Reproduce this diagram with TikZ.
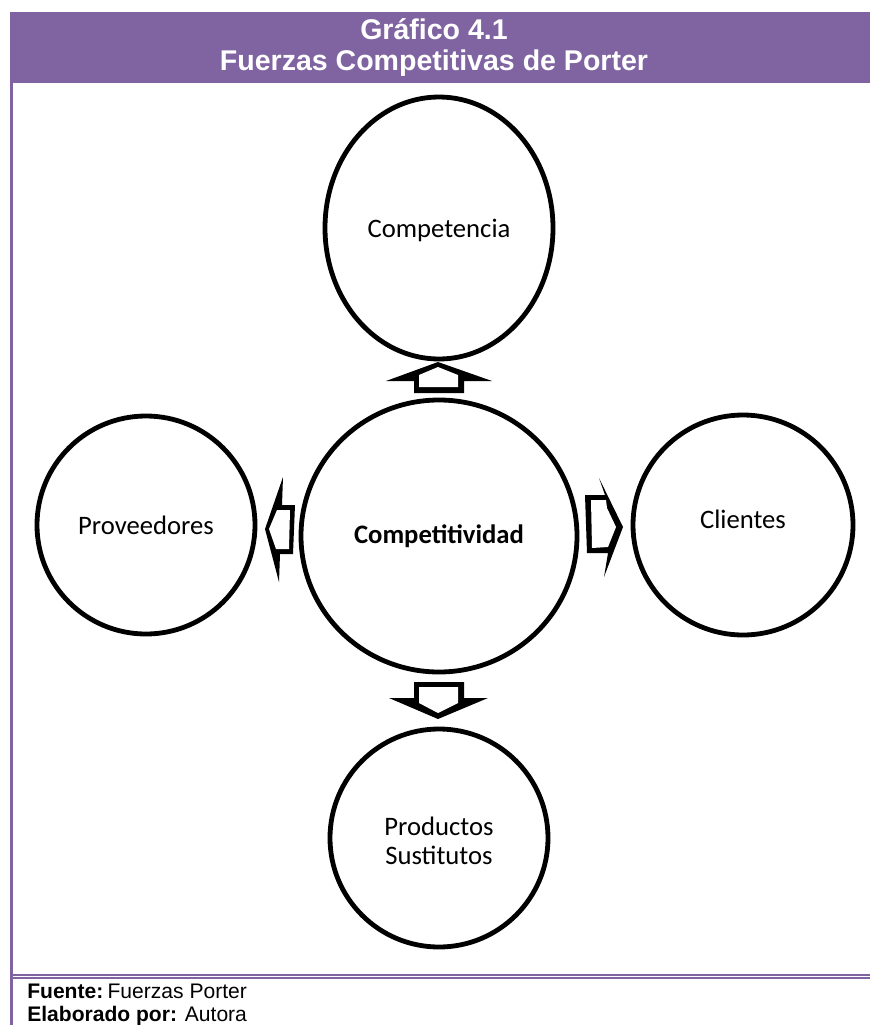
\documentclass[tikz,border=0pt]{standalone}
\usepackage{fontspec}
\setmainfont{Liberation Sans}
\newfontfamily\carlito{Carlito}
\newcommand{\nudge}[2]{\raisebox{#1}[\height][\depth]{#2}}
\definecolor{frame}{HTML}{8064A2}
\tikzset{
  x=0.75pt,y=-0.75pt,
  ring/.style={draw=black,line width=3.6pt,ellipse,fill=white,inner sep=0pt,font=\carlito\fontsize{20}{22}\selectfont,align=center},
  bandtext/.style={text=white,font=\bfseries\fontsize{21.4}{23}\selectfont,align=center,inner sep=0pt},
  foot/.style={anchor=base west,inner sep=0pt,font=\fontsize{15.8}{18}\selectfont},
  arrowout/.style={fill=black,draw=none},
  arrowin/.style={fill=white,draw=none},
  framefill/.style={fill=frame,draw=none}
}
\usetikzlibrary{shapes.geometric}
\begin{document}
\begin{tikzpicture}
\useasboundingbox (0,0) rectangle (870,1025);
\fill[framefill] (10,12) rectangle (870,83);
\fill[framefill] (10,83) rectangle (13,1025);
\fill[framefill] (13,974) rectangle (870,976);
\fill[framefill] (13,977) rectangle (870,979);
\node[bandtext] (band) at (434,47.5) {Gráfico 4.1\\Fuerzas Competitivas de Porter};
\node[ring,minimum width=171pt,minimum height=196.5pt] (comp) at (439,228) {\nudge{-1.5pt}{Competencia}};
\node[ring,minimum width=207pt,minimum height=204pt] (centro) at (439,536) {\textbf{Competitividad}};
\node[ring,minimum width=163.5pt,minimum height=163.5pt] (prov) at (146,525) {Proveedores};
\node[ring,minimum width=165pt,minimum height=165pt] (cli) at (743,525) {\nudge{4.5pt}{Clientes}};
\node[ring,minimum width=163.5pt,minimum height=163.5pt] (sust) at (439,838) {\nudge{-2.2pt}{Productos}\\\nudge{-2.2pt}{Sustitutos}};
% up
\fill[arrowout] (438,362)--(492,381)--(464,381)--(464,393)--(414,393)--(414,381)--(386,381)--cycle;
\fill[arrowin] (438,367)--(458,375)--(458,387)--(419,387)--(419,375)--cycle;
% down
\fill[arrowout] (414,682)--(464,682)--(464,698)--(488,698)--(438,719)--(389,698)--(414,698)--cycle;
\fill[arrowin] (419,687)--(458,687)--(458,703)--(438,713)--(419,703)--cycle;
% left
\fill[arrowout] (265,529)--(283,477)--(282,505)--(295,505)--(293,554)--(280,554)--(279,582)--cycle;
\fill[arrowin] (269,529)--(277,510)--(290,510)--(289,549)--(276,549)--cycle;
% right
\fill[arrowout] (585,495)--(605,495)--(599,478)--(623,527)--(604,577)--(608,553)--(587,553)--cycle;
\fill[arrowin] (591,500)--(606,500)--(607,508)--(616,527)--(608,547)--(592,548)--cycle;
\node[foot] (fuente) at (27,998) {\textbf{Fuente:}\hspace{3.2pt}Fuerzas Porter};
\node[foot] (elab) at (27,1021) {\textbf{Elaborado por:} Autora};
\end{tikzpicture}
\end{document}
